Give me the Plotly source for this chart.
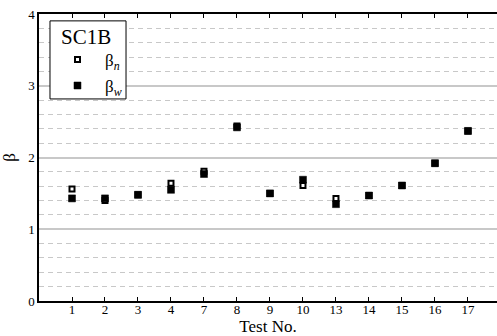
import plotly.graph_objects as go

# Test numbers and reliability indices
tests = ["1", "2", "3", "4", "7", "8", "9", "10", "13", "14", "15", "16", "17"]
beta_n = [1.56, 1.40, 1.48, 1.64, 1.81, 2.44, 1.50, 1.61, 1.43, 1.47, 1.61, 1.92, 2.37]
beta_w = [1.43, 1.43, 1.48, 1.55, 1.77, 2.42, 1.50, 1.69, 1.35, 1.47, 1.61, 1.92, 2.37]
specimen = "SC1B"

xpos = list(range(1, len(tests) + 1))
serif = "Liberation Serif"

fig = go.Figure()
fig.add_trace(go.Scatter(
    x=xpos, y=beta_n, mode="markers", name="β<sub><i>n</i></sub>",
    legendgroup="n",
    marker=dict(symbol="square", size=5, color="white",
                line=dict(color="black", width=2)),
))
fig.add_trace(go.Scatter(
    x=xpos, y=beta_w, mode="markers", name="β<sub><i>w</i></sub>",
    legendgroup="w",
    marker=dict(symbol="square", size=7, color="black",
                line=dict(color="black", width=0.5)),
))

# framed key box with the specimen name on top
fig.add_shape(type="rect", xref="paper", yref="paper",
              x0=0.024, x1=0.19, y0=0.704, y1=0.976,
              line=dict(color="black", width=1), fillcolor="white",
              layer="above")
fig.add_annotation(text=specimen, xref="paper", yref="paper",
                   x=0.1037, y=0.92, showarrow=False,
                   xanchor="center", yanchor="middle",
                   font=dict(family=serif, size=21, color="black"))

fig.update_layout(
    width=497, height=336,
    margin=dict(l=39, r=0, t=14, b=35),
    plot_bgcolor="white", paper_bgcolor="white",
    font=dict(family=serif, color="black", size=13),
    showlegend=True,
    legend=dict(
        x=0.024, y=0.903, xanchor="left", yanchor="top",
        bgcolor="rgba(0,0,0,0)", borderwidth=0,
        font=dict(family=serif, size=17, color="black"),
        itemwidth=45, tracegroupgap=1,
    ),
    xaxis=dict(
        range=[0, 13.88],
        tickmode="array", tickvals=xpos, ticktext=tests,
        ticks="inside", ticklen=4, tickcolor="black", tickwidth=1,
        showline=True, linecolor="black", linewidth=1.5, mirror="ticks",
        showgrid=False, zeroline=False,
        tickfont=dict(family=serif, size=13),
        ticklabelstandoff=-4,
        title=dict(text="Test No.", font=dict(family=serif, size=17), standoff=0),
    ),
    yaxis=dict(
        range=[0, 4], dtick=1,
        ticks="", showline=True, linecolor="black", linewidth=1.5,
        showgrid=True, gridcolor="#c8c8c8", gridwidth=1.5,
        zeroline=False,
        minor=dict(dtick=0.2, showgrid=True, gridcolor="#c8c8c8",
                   gridwidth=1, griddash="5px,4px"),
        tickfont=dict(family=serif, size=13),
        title=dict(text="β", font=dict(family=serif, size=17), standoff=13),
    ),
)

fig.write_html("out.html")
